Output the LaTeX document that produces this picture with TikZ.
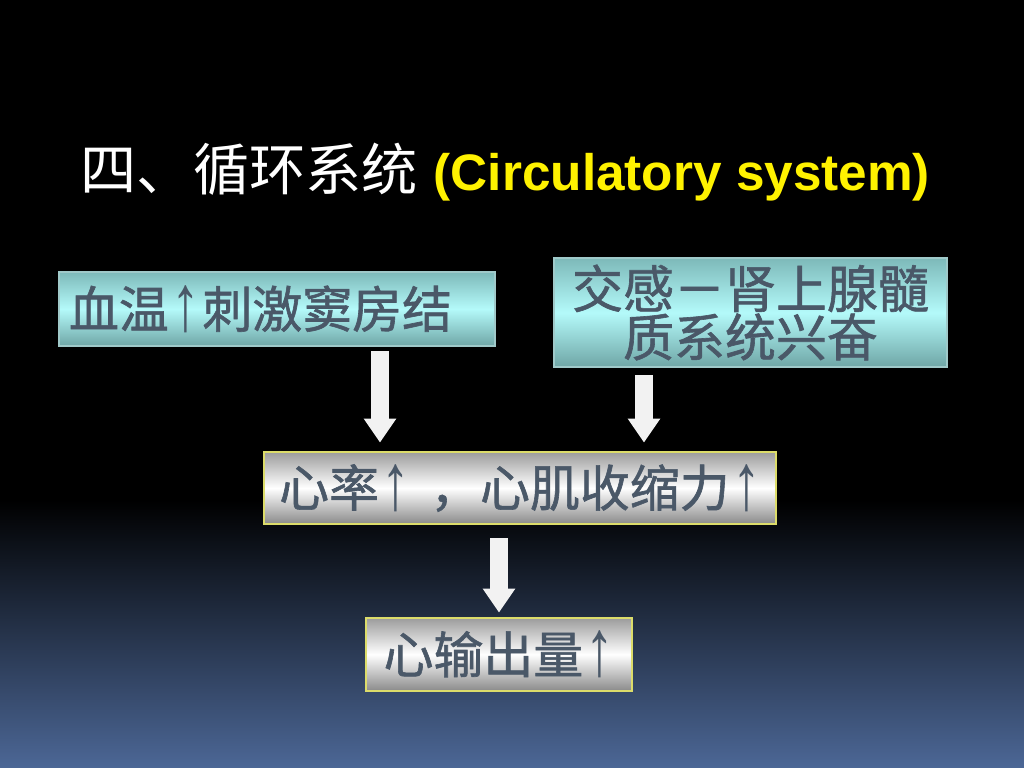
\documentclass[tikz,border=0pt]{standalone}
\usepackage{fontspec}
\usepackage{xcolor}
\usepackage{tikz}
\usetikzlibrary{arrows.meta,positioning,calc}
\newfontfamily\cjk{Noto Sans CJK SC}
\newfontfamily\cjkbox[FakeBold=1.2]{Noto Sans CJK SC}
\newfontfamily\latinfont{Liberation Sans}
\newcommand{\up}{\hspace{0.05em}\raisebox{-0.05em}{\scalebox{1.15}[1.6]{\latinfont ↑}}\hspace{0.05em}}
\definecolor{bgblue}{HTML}{4C6796}
\definecolor{inkgray}{HTML}{4A5868}
\definecolor{tealtop}{HTML}{7DB9B9}
\definecolor{tealmid}{HTML}{B4FAFA}
\definecolor{tealbot}{HTML}{6FA6A6}
\definecolor{greytop}{HTML}{9C9C9C}
\definecolor{greybot}{HTML}{8A8A8A}
\definecolor{rimyellow}{HTML}{DCDC6A}

\begin{document}
\begin{tikzpicture}[
    tbox/.style={draw=tealmid!60!gray,line width=0.6pt,top color=tealtop,bottom color=tealbot,middle color=tealmid,
      text=inkgray,font=\cjkbox\fontsize{14.2}{13.8}\selectfont,inner sep=0pt},
    gbox/.style={draw=rimyellow,line width=0.8pt,top color=greytop,bottom color=greybot,middle color=white,
      text=inkgray,font=\cjkbox\fontsize{14.2}{13.8}\selectfont,inner sep=0pt},
    flow/.style={line width=0.18cm,draw=gray!10,-{Triangle[length=0.24cm,width=0.31cm]}},
    >=Latex
  ]
    % background
    \fill[black] (0,0) rectangle (10.24,-5.0);
    \shade[top color=black,bottom color=bgblue] (0,-5.0) rectangle (10.24,-7.68);
    \useasboundingbox (0,0) rectangle (10.24,-7.68);

    \node[anchor=west,inner sep=0pt] (title) at (0.80,-1.72)
      {\cjk\color{white}\fontsize{16}{16}\selectfont 四、循环系统\hspace{0.28em}{\latinfont\bfseries\color{yellow}\fontsize{14.6}{16}\selectfont (Circulatory system)}};

    \node[tbox,minimum width=4.36cm,minimum height=0.74cm,text width=4.16cm,align=left] (temp) at (2.77,-3.09) {血温\up 刺激窦房结};
    \node[tbox,minimum width=3.93cm,minimum height=1.09cm,align=center,font=\cjkbox\fontsize{14.5}{13.8}\selectfont] (symp) at (7.505,-3.125)
      {交感－肾上腺髓\\质系统兴奋};
    \node[gbox,minimum width=5.12cm,minimum height=0.72cm] (rate) at (5.20,-4.88) {心率\up\hspace{0.35em}，心肌收缩力\up};
    \node[gbox,minimum width=2.66cm,minimum height=0.73cm] (output) at (4.99,-6.545) {心输出量\up};

    \coordinate (ax1) at (3.80,0);
    \coordinate (ax2) at (6.44,0);

    \draw[flow,shorten <=0.04cm,shorten >=0.08cm] (temp.south -| ax1) -- (rate.north -| ax1);
    \draw[flow,shorten <=0.07cm,shorten >=0.08cm] (symp.south -| ax2) -- (rate.north -| ax2);
    \draw[flow,shorten <=0.13cm,shorten >=0.04cm] (rate.south -| output.north) -- (output.north);
  \end{tikzpicture}
\end{document}
